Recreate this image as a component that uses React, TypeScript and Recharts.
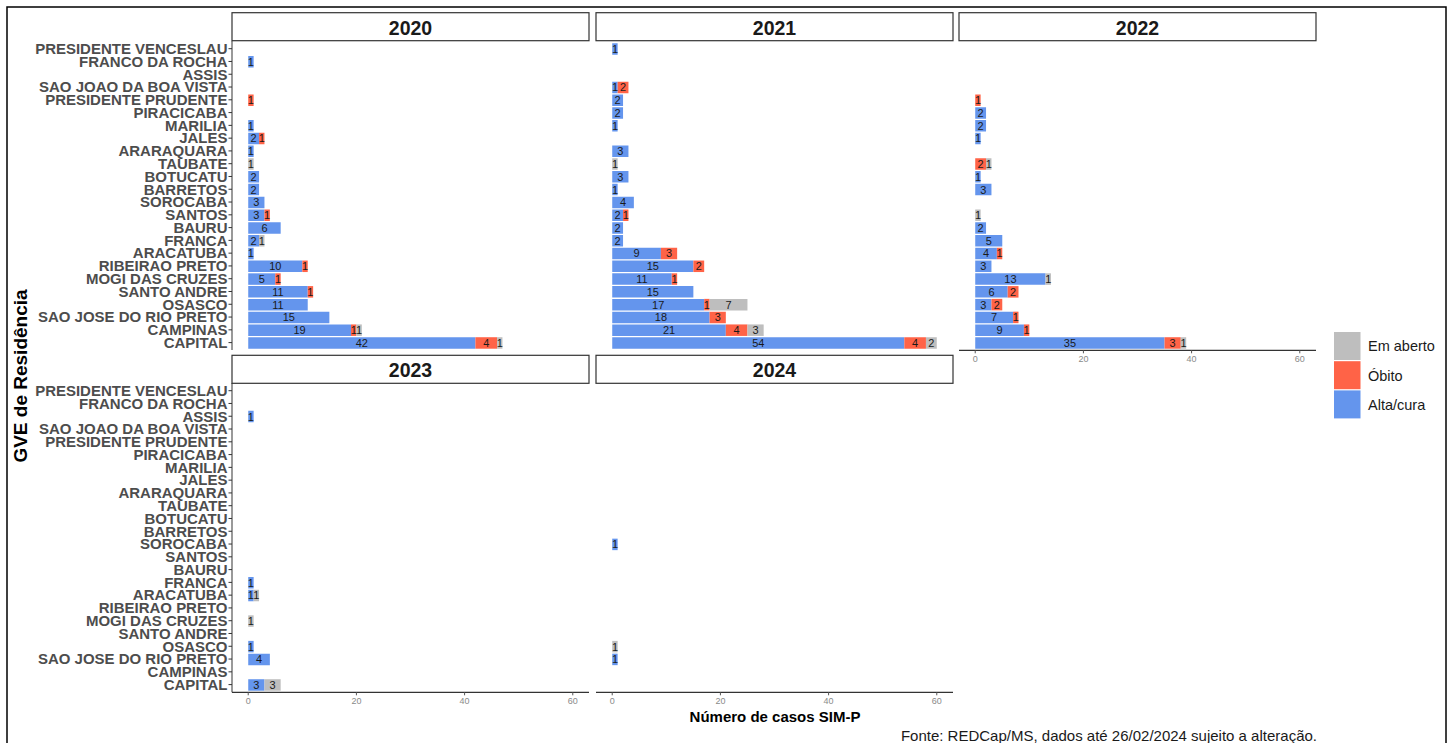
import React from 'react'
import { Bar, BarChart, LabelList, XAxis, YAxis } from 'recharts'

const gve = [
  'PRESIDENTE VENCESLAU',
  'FRANCO DA ROCHA',
  'ASSIS',
  'SAO JOAO DA BOA VISTA',
  'PRESIDENTE PRUDENTE',
  'PIRACICABA',
  'MARILIA',
  'JALES',
  'ARARAQUARA',
  'TAUBATE',
  'BOTUCATU',
  'BARRETOS',
  'SOROCABA',
  'SANTOS',
  'BAURU',
  'FRANCA',
  'ARACATUBA',
  'RIBEIRAO PRETO',
  'MOGI DAS CRUZES',
  'SANTO ANDRE',
  'OSASCO',
  'SAO JOSE DO RIO PRETO',
  'CAMPINAS',
  'CAPITAL',
]

// values per GVE, same order as gve
const alta2020 = [0, 1, 0, 0, 0, 0, 1, 2, 1, 0, 2, 2, 3, 3, 6, 2, 1, 10, 5, 11, 11, 15, 19, 42]
const obito2020 = [0, 0, 0, 0, 1, 0, 0, 1, 0, 0, 0, 0, 0, 1, 0, 0, 0, 1, 1, 1, 0, 0, 1, 4]
const aberto2020 = [0, 0, 0, 0, 0, 0, 0, 0, 0, 1, 0, 0, 0, 0, 0, 1, 0, 0, 0, 0, 0, 0, 1, 1]

const alta2021 = [1, 0, 0, 1, 2, 2, 1, 0, 3, 0, 3, 1, 4, 2, 2, 2, 9, 15, 11, 15, 17, 18, 21, 54]
const obito2021 = [0, 0, 0, 2, 0, 0, 0, 0, 0, 0, 0, 0, 0, 1, 0, 0, 3, 2, 1, 0, 1, 3, 4, 4]
const aberto2021 = [0, 0, 0, 0, 0, 0, 0, 0, 0, 1, 0, 0, 0, 0, 0, 0, 0, 0, 0, 0, 7, 0, 3, 2]

const alta2022 = [0, 0, 0, 0, 0, 2, 2, 1, 0, 0, 1, 3, 0, 0, 2, 5, 4, 3, 13, 6, 3, 7, 9, 35]
const obito2022 = [0, 0, 0, 0, 1, 0, 0, 0, 0, 2, 0, 0, 0, 0, 0, 0, 1, 0, 0, 2, 2, 1, 1, 3]
const aberto2022 = [0, 0, 0, 0, 0, 0, 0, 0, 0, 1, 0, 0, 0, 1, 0, 0, 0, 0, 1, 0, 0, 0, 0, 1]

const alta2023 = [0, 0, 1, 0, 0, 0, 0, 0, 0, 0, 0, 0, 0, 0, 0, 1, 1, 0, 0, 0, 1, 4, 0, 3]
const obito2023 = [0, 0, 0, 0, 0, 0, 0, 0, 0, 0, 0, 0, 0, 0, 0, 0, 0, 0, 0, 0, 0, 0, 0, 0]
const aberto2023 = [0, 0, 0, 0, 0, 0, 0, 0, 0, 0, 0, 0, 0, 0, 0, 0, 1, 0, 1, 0, 0, 0, 0, 3]

const alta2024 = [0, 0, 0, 0, 0, 0, 0, 0, 0, 0, 0, 0, 1, 0, 0, 0, 0, 0, 0, 0, 0, 1, 0, 0]
const obito2024 = [0, 0, 0, 0, 0, 0, 0, 0, 0, 0, 0, 0, 0, 0, 0, 0, 0, 0, 0, 0, 0, 0, 0, 0]
const aberto2024 = [0, 0, 0, 0, 0, 0, 0, 0, 0, 0, 0, 0, 0, 0, 0, 0, 0, 0, 0, 0, 1, 0, 0, 0]

const xTicks = [0, 20, 40, 60]

const FONT = '"Liberation Sans", Arial, sans-serif'
const BLUE = '#6495ED'
const RED = '#FF6347'
const GREY = '#BEBEBE'

const COL_X = [232, 596, 959]
const ROW_Y = [40.7, 383.3]
const PW = 357
const PH = 309.3
const STRIP_H = 28
const Y_W = 224
const X_H = 22

const build = (alta: number[], obito: number[], aberto: number[]) =>
  gve.map((g, i) => ({ gve: g, alta: alta[i], obito: obito[i], aberto: aberto[i] }))

const panels = [
  { year: '2020', rows: build(alta2020, obito2020, aberto2020), col: 0, row: 0, showY: true, showX: false },
  { year: '2021', rows: build(alta2021, obito2021, aberto2021), col: 1, row: 0, showY: false, showX: false },
  { year: '2022', rows: build(alta2022, obito2022, aberto2022), col: 2, row: 0, showY: false, showX: true },
  { year: '2023', rows: build(alta2023, obito2023, aberto2023), col: 0, row: 1, showY: true, showX: true },
  { year: '2024', rows: build(alta2024, obito2024, aberto2024), col: 1, row: 1, showY: false, showX: true },
]

const hideZero = (v: any) => (v ? v : '')

const labelProps = { position: 'center' as const, fill: '#1a1a1a', fontSize: 11, formatter: hideZero }

function Panel({ rows, col, row, showY, showX }: any) {
  const width = PW + (showY ? Y_W : 0)
  const height = PH + (showX ? X_H : 0)
  return (
    <div style={{ position: 'absolute', left: COL_X[col] - (showY ? Y_W : 0), top: ROW_Y[row] }}>
      <BarChart
        width={width}
        height={height}
        data={rows}
        layout="vertical"
        margin={{ top: 0, right: 0, bottom: 0, left: 0 }}
        barSize={11.5}
      >
        <XAxis
          type="number"
          domain={[-3, 63]}
          ticks={xTicks}
          allowDataOverflow
          hide={!showX}
          height={X_H}
          axisLine={{ stroke: '#333', strokeWidth: 1.2 }}
          tickLine={{ stroke: '#555' }}
          tickSize={3}
          tickMargin={2}
          tick={{ fontSize: 9, fill: '#8a8a8a', fontFamily: FONT }}
        />
        <YAxis
          type="category"
          dataKey="gve"
          hide={!showY}
          width={Y_W}
          interval={0}
          padding={{ top: 1.3, bottom: 1.3 }}
          axisLine={{ stroke: '#333' }}
          tickLine={{ stroke: '#333' }}
          tickSize={3.5}
          tickMargin={1}
          tick={{ fontSize: 15, fontWeight: 'bold', fill: '#4D4D4D', fontFamily: FONT }}
        />
        <Bar dataKey="alta" stackId="s" fill={BLUE} isAnimationActive={false}>
          <LabelList dataKey="alta" {...labelProps} />
        </Bar>
        <Bar dataKey="obito" stackId="s" fill={RED} isAnimationActive={false}>
          <LabelList dataKey="obito" {...labelProps} />
        </Bar>
        <Bar dataKey="aberto" stackId="s" fill={GREY} isAnimationActive={false}>
          <LabelList dataKey="aberto" {...labelProps} />
        </Bar>
      </BarChart>
    </div>
  )
}

const legendItems = [
  { label: 'Em aberto', color: GREY },
  { label: 'Óbito', color: RED },
  { label: 'Alta/cura', color: BLUE },
]

export default function App() {
  return (
    <div
      style={{
        position: 'absolute',
        left: 0,
        top: 0,
        width: 1453,
        height: 743,
        overflow: 'hidden',
        background: '#fff',
        fontFamily: FONT,
      }}
    >
      <svg width={1453} height={743} style={{ position: 'absolute', left: 0, top: 0 }}>
        {panels.map((p) => {
          const x = COL_X[p.col]
          const y = ROW_Y[p.row] - STRIP_H
          return (
            <g key={p.year}>
              <rect x={x} y={y} width={PW} height={STRIP_H} fill="#fff" stroke="#333" strokeWidth={1.2} />
              <text
                x={x + PW / 2}
                y={y + STRIP_H / 2 + 1}
                textAnchor="middle"
                dominantBaseline="central"
                fontSize={19.5}
                fontWeight="bold"
                fill="#1a1a1a"
              >
                {p.year}
              </text>
            </g>
          )
        })}
        <text
          x={20}
          y={376}
          transform="rotate(-90 20 376)"
          textAnchor="middle"
          dominantBaseline="central"
          fontSize={19}
          fontWeight="bold"
          fill="#000"
        >
          GVE de Residência
        </text>
        <text x={775} y={716} textAnchor="middle" dominantBaseline="central" fontSize={15} fontWeight="bold" fill="#000">
          Número de casos SIM-P
        </text>
        <text x={1317} y={735} textAnchor="end" dominantBaseline="central" fontSize={15} fill="#1a1a1a">
          Fonte: REDCap/MS, dados até 26/02/2024 sujeito a alteração.
        </text>
        {legendItems.map((it, i) => (
          <g key={it.label}>
            <rect x={1334} y={332 + i * 29.2} width={26.5} height={28} fill={it.color} />
            <text x={1368} y={346 + i * 29.5} dominantBaseline="central" fontSize={14.5} fill="#1a1a1a">
              {it.label}
            </text>
          </g>
        ))}
        <rect x={7} y={7} width={1439} height={760} fill="none" stroke="#000" strokeWidth={1.5} />
      </svg>
      {panels.map((p) => (
        <Panel key={p.year} {...p} />
      ))}
    </div>
  )
}
